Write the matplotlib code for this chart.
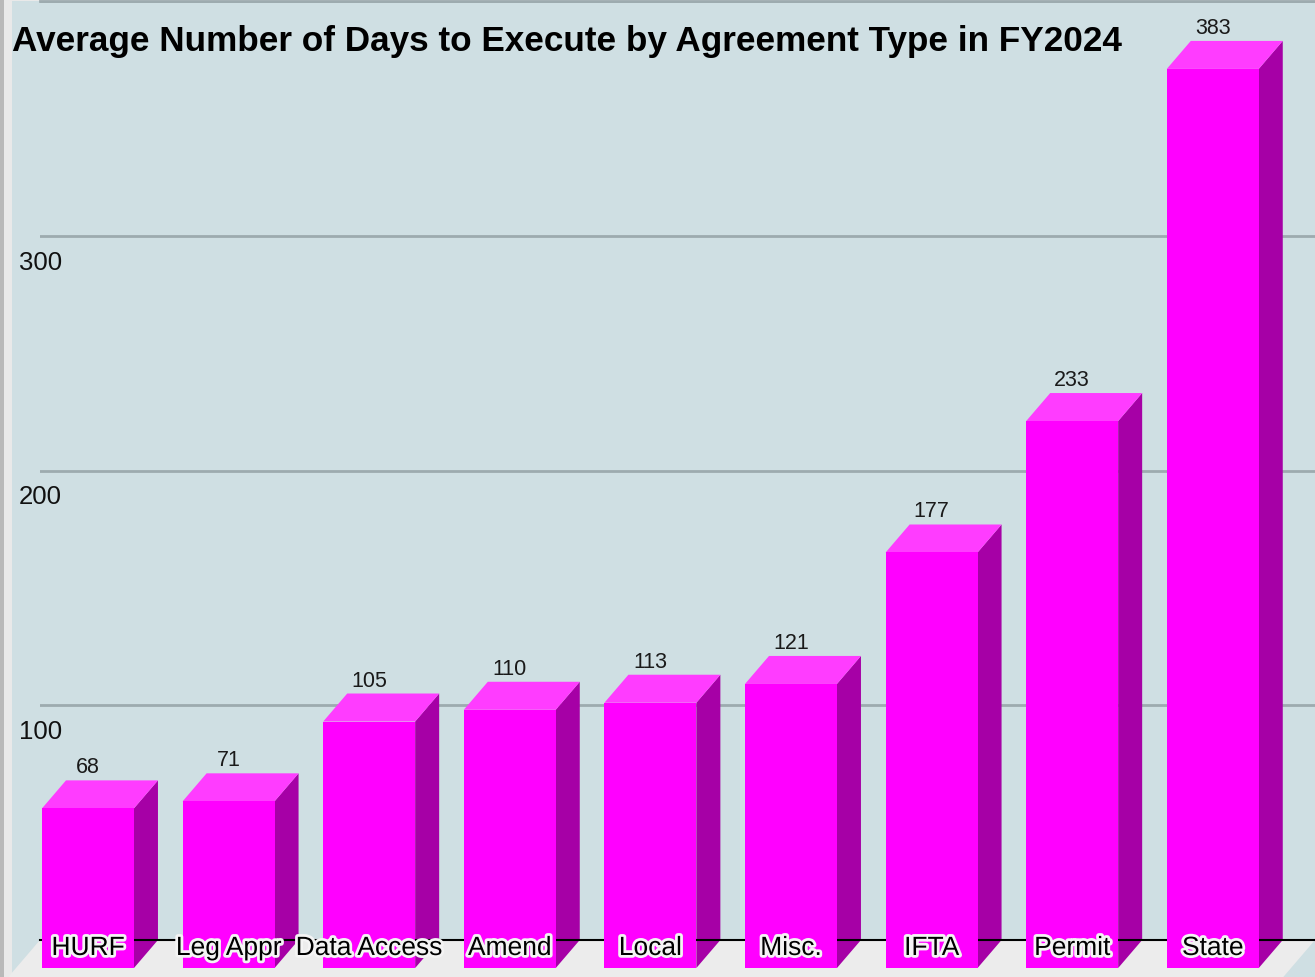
import numpy as np
import matplotlib
matplotlib.use('Agg')
import matplotlib.pyplot as plt
from matplotlib.patches import Polygon, Rectangle
import matplotlib.patheffects as pe

# data
categories = ['HURF', 'Leg Appr', 'Data Access', 'Amend', 'Local', 'Misc.', 'IFTA', 'Permit', 'State']
days = [68, 71, 105, 110, 113, 121, 177, 233, 383]
yticks = [100, 200, 300]
title = 'Average Number of Days to Execute by Agreement Type in FY2024'

W, H = 1315, 978
bg = '#cfdfe3'
front_c, top_c, side_c = '#ff00ff', '#ff3cff', '#a600a6'
sans = ['Liberation Sans', 'DejaVu Sans']

fig = plt.figure(figsize=(W / 100, H / 100), dpi=100, facecolor='#e9e9e9')
# backdrop (walls) in figure pixels
fig.patches.append(Rectangle((12 / W, 0), 1, (H - 2) / H, transform=fig.transFigure,
                             facecolor=bg, edgecolor='none', zorder=-10))
fig.patches.append(Rectangle((0, 0), 4 / W, 1, transform=fig.transFigure,
                             facecolor='#b9b9b9', edgecolor='none', zorder=-9))

ax = fig.add_axes([40 / W, 37 / H, 1275 / W, 939 / H])
ax.set_facecolor('none')
x = np.arange(len(categories))
ax.set_xlim(-0.512, -0.512 + 1275 / 140.6)
ax.set_ylim(0, 400)
ax.set_yticks(yticks + [400])
ax.set_xticks([])
ax.tick_params(axis='y', length=0, labelleft=False)
ax.grid(axis='y', color='#9dabaf', lw=2)
ax.set_axisbelow(True)
for s in ['left', 'right']:
    ax.spines[s].set_visible(False)
ax.spines['top'].set_color('#9dabaf')
ax.spines['top'].set_linewidth(2)
ax.spines['bottom'].set_color('black')
ax.spines['bottom'].set_linewidth(1.5)

# pixel depth of the 3d effect converted to data units
fig.canvas.draw()
p0 = ax.transData.transform((0, 0))
p1 = ax.transData.transform((1, 1))
pxx, pxy = p1[0] - p0[0], p1[1] - p0[1]
dx, dy = 24 / pxx, 28 / pxy
w = 0.654

xl = ax.get_xlim()
floor = Polygon([(xl[0], 0), (xl[1], 0), (xl[1] - 2 * dx, -2 * dy), (xl[0] - 2 * dx, -2 * dy)],
                closed=True, facecolor='#ececec', edgecolor='none', clip_on=False, zorder=0.5)
ax.add_patch(floor)

for xi, v, name in zip(x, days, categories):
    l, r = xi - w / 2, xi + w / 2
    side = Polygon([(r - dx, v - dy), (r, v), (r, 0), (r - dx, -dy)], closed=True,
                   facecolor=side_c, edgecolor='none', clip_on=False, zorder=2)
    top = Polygon([(l - dx, v - dy), (r - dx, v - dy), (r, v), (l, v)], closed=True,
                  facecolor=top_c, edgecolor='none', clip_on=False, zorder=2)
    front = Polygon([(l - dx, -dy), (r - dx, -dy), (r - dx, v - dy), (l - dx, v - dy)], closed=True,
                    facecolor=front_c, edgecolor='none', clip_on=False, zorder=3)
    for p in (side, top, front):
        ax.add_patch(p)
    ax.text(xi - dx, v + 8 / pxy, str(v), ha='center', va='baseline', fontsize=15.5,
            family=sans, color='#1a1a1a', zorder=5)
    ax.text(xi - dx, -8 / pxy, name, ha='center', va='center', fontsize=19,
            family=sans, color='black', zorder=5, clip_on=False,
            path_effects=[pe.withStroke(linewidth=4, foreground='#f4f4f4')])

for t in yticks:
    ax.text(xl[0] - 21 / pxx, t - 26 / pxy, str(t), ha='left', va='center', fontsize=18.5,
            family=sans, color='#111111', clip_on=False)

fig.text(12 / W, (H - 51) / H, title, ha='left', va='baseline', fontsize=25.3,
         fontweight='bold', family=sans, color='black')

fig.savefig('out.png', dpi=100, facecolor=fig.get_facecolor())
